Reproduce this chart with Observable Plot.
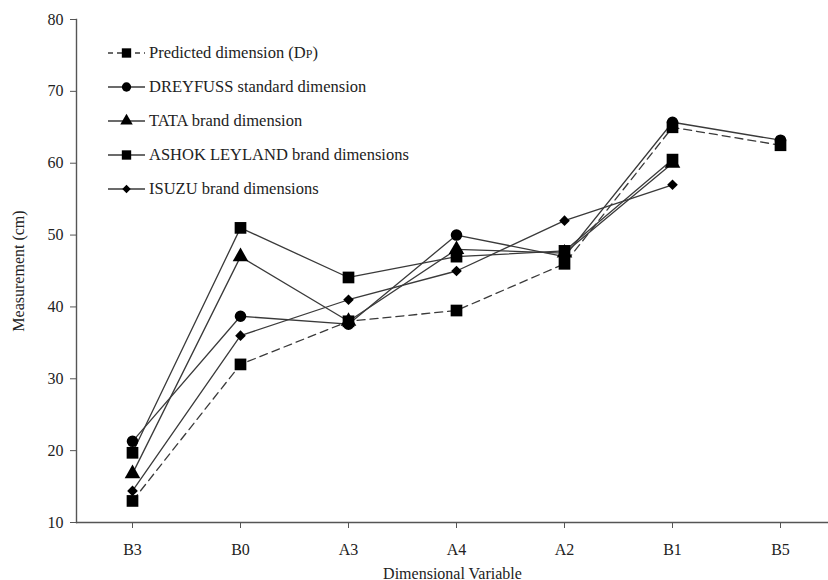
<!DOCTYPE html>
<html><head><meta charset="utf-8">
<script src="https://cdn.jsdelivr.net/npm/d3@7"></script>
<script src="https://cdn.jsdelivr.net/npm/@observablehq/plot@0.6"></script>
<style>body{margin:0;background:#fff} svg text{font-family:"Liberation Serif","Times New Roman",serif}</style>
</head><body><div id="chart"></div>
<script>
const categories = ["B3", "B0", "A3", "A4", "A2", "B1", "B5"];
const predicted = [13, 32, 38, 39.5, 46, 65, 62.5];
const dreyfuss = [21.3, 38.7, 37.6, 50, 47, 65.7, 63.2];
const tata = [16.8, 47, 38, 48, 47.5, 60, null];
const ashok = [19.7, 51, 44.1, 47, 47.8, 60.5, null];
const isuzu = [14.4, 36, 41, 45, 52, 57, null];
const seriesNames = ["Predicted dimension (DP)", "DREYFUSS standard dimension", "TATA brand dimension", "ASHOK LEYLAND brand dimensions", "ISUZU brand dimensions"];
const yTicks = [10, 20, 30, 40, 50, 60, 70, 80];

const seriesValues = [predicted, dreyfuss, tata, ashok, isuzu];
const symbols = ["square", "circle", "triangle", "square", "diamond2"];
const radii = [6.6, 5.8, 5.8, 6.6, 4.8];
const dashes = ["8,5", null, null, null, null];
const FONT = "'Liberation Serif', 'Times New Roman', serif";

const rows = seriesValues.map((vals, s) =>
  categories.map((c, i) => ({cat: c, v: vals[i], s}))
);

const marks = [
  Plot.ruleY([10], {stroke: "#555", strokeWidth: 1.4}),
  Plot.frame({anchor: "left", stroke: "#555", strokeWidth: 1.4}),
  Plot.axisY({ticks: yTicks, tickSize: 6, tickPadding: 7, fontSize: 16, label: "Measurement (cm)", labelAnchor: "center", labelArrow: false, labelOffset: 64, stroke: "#555", fill: "#222"}),
  Plot.axisX({tickSize: 6, tickPadding: 15, fontSize: 16, label: "Dimensional Variable", labelAnchor: "center", labelArrow: false, labelOffset: 56, stroke: "#555", fill: "#222"})
];
rows.forEach((data, s) => {
  marks.push(Plot.line(data, {x: "cat", y: "v", stroke: "#3a3a3a", strokeWidth: 1.3, strokeDasharray: dashes[s] || undefined}));
});
rows.forEach((data, s) => {
  marks.push(Plot.dot(data.filter(d => d.v != null), {x: "cat", y: "v", symbol: () => symbols[s], r: radii[s], fill: "#000", stroke: "none"}));
});

const chart = Plot.plot({
  width: 828,
  height: 580,
  marginLeft: 76,
  marginRight: 0,
  marginTop: 19,
  marginBottom: 58,
  style: {fontFamily: FONT, color: "#222", background: "#fff"},
  x: {type: "point", domain: categories, range: [131, 781], padding: 0, label: null},
  y: {domain: [10, 80], label: null},
  symbol: {type: "identity"},
  marks
});
document.getElementById("chart").appendChild(chart);

// Legend inside the plot area
const svg = d3.select(chart);
const leg = svg.append("g").attr("font-family", FONT).attr("font-size", 16.5).attr("fill", "#222").attr("text-anchor", "start");
const symMap = {square: d3.symbolSquare, circle: d3.symbolCircle, triangle: d3.symbolTriangle, diamond2: d3.symbolDiamond2};
const legY0 = 53, legStep = 34;
seriesNames.forEach((name, s) => {
  const y = legY0 + s * legStep;
  const g = leg.append("g").attr("transform", `translate(0,${y})`);
  g.append("line").attr("x1", 108).attr("x2", 145).attr("y1", 0).attr("y2", 0)
    .attr("stroke", "#3a3a3a").attr("stroke-width", 1.3).attr("stroke-dasharray", dashes[s] ? "5,4" : null);
  const r = radii[s] * 0.8;
  g.append("path").attr("transform", "translate(126.5,0)")
    .attr("d", d3.symbol(symMap[symbols[s]], Math.PI * r * r)()).attr("fill", "#000");
  const t = g.append("text").attr("x", 149).attr("y", 5).attr("text-anchor", "start");
  if (s === 0) {
    t.append("tspan").text("Predicted dimension (D");
    t.append("tspan").attr("font-size", 12).text("P");
    t.append("tspan").text(")");
  } else {
    t.text(name);
  }
});
</script>
</body></html>
